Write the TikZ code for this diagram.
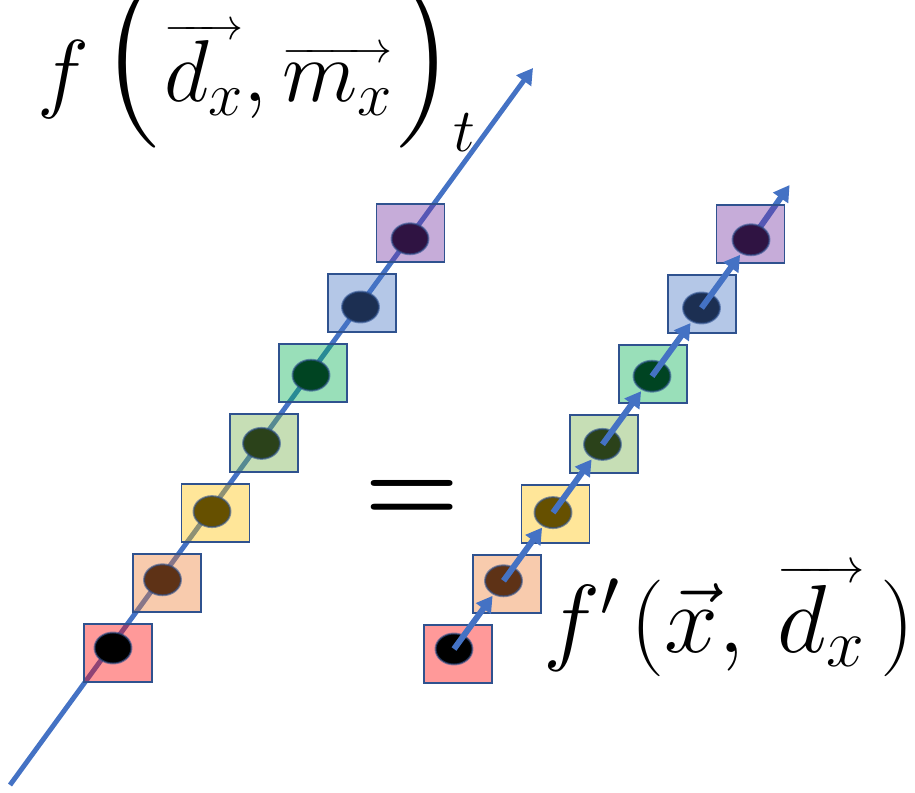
\documentclass[tikz,border=0pt]{standalone}
\usepackage{fix-cm}
\usepackage{amsmath}
\usepackage{xcolor}
\usepackage{tikz}
\usetikzlibrary{arrows.meta,calc,shapes.geometric}

\makeatletter
\newcommand\topvec[1]{\vbox{\ialign{##\crcr\rightarrowfill@\scriptscriptstyle\crcr
  \noalign{\nointerlineskip\kern0.02em}$\m@th\hfil\textstyle#1\hfil$\crcr}}}
\makeatother
\newcommand\bigparen[1]{\raisebox{-2pt}{\fontsize{97}{97}\selectfont#1}}

\definecolor{lineblue}{HTML}{4472C4}
\definecolor{edgeblue}{HTML}{2F528F}
\definecolor{boxc1}{HTML}{FF0000}
\definecolor{boxc2}{HTML}{ED7D31}
\definecolor{boxc3}{HTML}{FFC000}
\definecolor{boxc4}{HTML}{70AD47}
\definecolor{boxc5}{HTML}{00B050}
\definecolor{boxc6}{HTML}{4472C4}
\definecolor{boxc7}{HTML}{7030A0}
\definecolor{dotc1}{HTML}{000000}
\definecolor{dotc2}{HTML}{5E3216}
\definecolor{dotc3}{HTML}{665000}
\definecolor{dotc4}{HTML}{2B421A}
\definecolor{dotc5}{HTML}{004422}
\definecolor{dotc6}{HTML}{1C2F52}
\definecolor{dotc7}{HTML}{2F1342}

\begin{document}
\begin{tikzpicture}[x=0.02cm, y=-0.02cm,
    cell/.style={draw=edgeblue, line width=1.1pt, fill=#1, fill opacity=0.4, minimum width=1.36cm, minimum height=1.16cm, inner sep=0pt},
    bead/.style={ellipse, draw=edgeblue, draw opacity=0.6, line width=1.1pt, fill=#1, minimum width=0.74cm, minimum height=0.62cm, inner sep=0pt},
    trail/.style={lineblue, line width=2.8pt, -{Triangle[length=9pt,width=10pt]}},
    hop/.style={lineblue, line width=3.4pt, -{Triangle[length=9pt,width=10pt]}}]
  \useasboundingbox (0,0) rectangle (915,793);

  \coordinate (tail) at (10,785);
  \coordinate (head) at (533,68);
  \draw[trail] (tail) -- (head);

  \coordinate (rlast) at (751,240);
  \coordinate (rtip) at (789.6,185);
  \draw[hop] (rlast) -- (rtip);

  \foreach \i in {1,...,7}{
    \node[cell=boxc\i] (lbox\i) at ({69.25+48.75*\i},{723-70*\i}) {};
    \node[bead=dotc\i] (ldot\i) at ({63.5+49.5*\i},{716.2-68.2*\i}) {};
    \node[cell=boxc\i] (rbox\i) at ({409.25+48.75*\i},{724-70*\i}) {};
    \node[bead=dotc\i] (rdot\i) at ({404.5+49.5*\i},{717.2-68.2*\i}) {};
  }

  \foreach \i [evaluate=\i as \j using int(\i+1)] in {1,...,6}
    \draw[hop] (rdot\i.center) -- ($(rdot\i)!0.78!(rdot\j)$);

  \node[anchor=base west, inner sep=0pt, font=\fontsize{50}{60}\selectfont] (lhs) at (37,102)
    {$f\,\mathopen{\bigparen{(}}\topvec{d_x},\topvec{m_x}\mathclose{\bigparen{)}}_t$};
  \node[inner sep=0pt, font=\fontsize{62}{70}\selectfont\bfseries] (eq) at (412,501) {=};
  \node[anchor=base west, inner sep=0pt, font=\fontsize{55}{66}\selectfont] (rhs) at (543,652)
    {$f'\mkern2mu(\vec{x},\,\topvec{d_x}\mkern3mu)$};
\end{tikzpicture}
\end{document}
